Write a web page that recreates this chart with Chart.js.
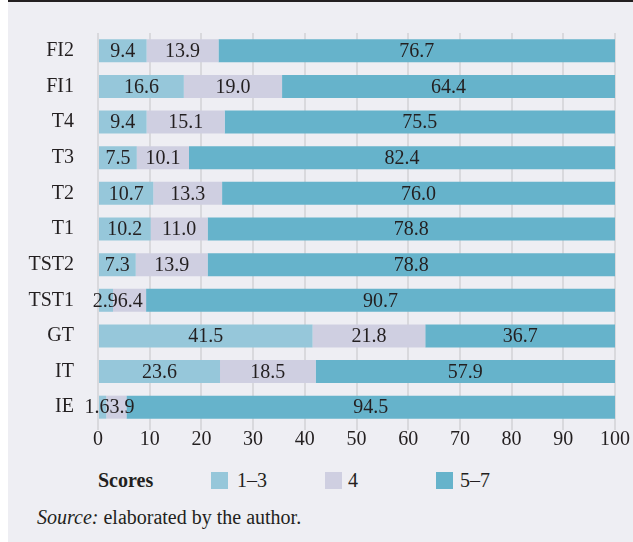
<!DOCTYPE html>
<html>
<head>
<meta charset="utf-8">
<script src="https://cdn.jsdelivr.net/npm/chart.js@4/dist/chart.umd.min.js"></script>
<style>
  html, body { margin: 0; padding: 0; background: #ffffff; width: 633px; height: 542px; overflow: hidden; }
  #frame { position: absolute; left: 8px; top: 0; width: 625px; height: 540px; background: #eeeef3; border-top: 2px solid #231f20; }
  #chart { position: absolute; left: 8px; top: -3px; }
  .txt { position: absolute; font-family: "Liberation Serif", "DejaVu Serif", serif; font-size: 20px; line-height: 20px; color: #231f20; white-space: nowrap; }
  .box { position: absolute; width: 17px; height: 17px; }
</style>
</head>
<body>
<div id="frame"></div>
<canvas id="chart" width="625" height="464"></canvas>
<div class="txt" style="left:98px; top:470px; font-weight:bold;">Scores</div>
<div id="legend"></div>
<div class="txt" style="left:37px; top:507px;"><i>Source:</i> elaborated by the author.</div>
<script>
const categories = ['FI2', 'FI1', 'T4', 'T3', 'T2', 'T1', 'TST2', 'TST1', 'GT', 'IT', 'IE'];
const seriesNames = ['1\u20133', '4', '5\u20137'];
const scoreLow = [9.4, 16.6, 9.4, 7.5, 10.7, 10.2, 7.3, 2.9, 41.5, 23.6, 1.6];
const scoreMid = [13.9, 19.0, 15.1, 10.1, 13.3, 11.0, 13.9, 6.4, 21.8, 18.5, 3.9];
const scoreHigh = [76.7, 64.4, 75.5, 82.4, 76.0, 78.8, 78.8, 90.7, 36.7, 57.9, 94.5];
const xTickValues = [0, 10, 20, 30, 40, 50, 60, 70, 80, 90, 100];

const colors = ['#96c7da', '#cfcfe1', '#66b3cb'];
const FONT = '"Liberation Serif", "DejaVu Serif", serif';
const TEXT = '#231f20';

const legendPos = [[211, 237], [325, 348], [436, 460]];
const legend = document.getElementById('legend');
seriesNames.forEach((n, i) => {
  const b = document.createElement('div');
  b.className = 'box';
  b.style.left = legendPos[i][0] + 'px';
  b.style.top = '472px';
  b.style.background = colors[i];
  legend.appendChild(b);
  const t = document.createElement('div');
  t.className = 'txt';
  t.style.left = legendPos[i][1] + 'px';
  t.style.top = '470px';
  t.textContent = n;
  legend.appendChild(t);
});

const valueLabels = {
  id: 'valueLabels',
  afterDatasetsDraw(chart) {
    const ctx = chart.ctx;
    ctx.save();
    ctx.font = '20px ' + FONT;
    ctx.fillStyle = TEXT;
    ctx.textAlign = 'center';
    ctx.textBaseline = 'middle';
    const n = chart.data.labels.length;
    for (let r = 0; r < n; r++) {
      const items = [];
      chart.data.datasets.forEach((ds, di) => {
        const el = chart.getDatasetMeta(di).data[r];
        const txt = ds.data[r].toFixed(1);
        items.push({ x: (el.x + el.base) / 2, y: el.y, w: ctx.measureText(txt).width, txt });
      });
      for (let k = 0; k < items.length - 1; k++) {
        const a = items[k], b = items[k + 1];
        const need = (a.w + b.w) / 2;
        const gap = b.x - a.x;
        if (gap < need) {
          const s = (need - gap) / 2;
          a.x -= s; b.x += s;
        }
      }
      items.forEach(it => ctx.fillText(it.txt, it.x, it.y + 1));
    }
    ctx.restore();
  }
};

new Chart(document.getElementById('chart'), {
  type: 'bar',
  data: {
    labels: categories,
    datasets: [
      { label: seriesNames[0], data: scoreLow, backgroundColor: colors[0] },
      { label: seriesNames[1], data: scoreMid, backgroundColor: colors[1] },
      { label: seriesNames[2], data: scoreHigh, backgroundColor: colors[2] }
    ]
  },
  options: {
    indexAxis: 'y',
    responsive: false,
    animation: false,
    devicePixelRatio: 1,
    barPercentage: 0.646,
    categoryPercentage: 1,
    layout: { padding: { top: 30, right: 18, left: 0, bottom: 0 } },
    plugins: { legend: { display: false }, tooltip: { enabled: false } },
    scales: {
      x: {
        stacked: true,
        min: 0, max: 100,
        afterBuildTicks(scale) { scale.ticks = xTickValues.map(v => ({ value: v })); },
        afterFit(scale) { scale.height = 30; },
        grid: { color: '#d9d9dd', lineWidth: 2, drawTicks: true, tickLength: 5, tickColor: '#d9d9dd' },
        border: { display: false },
        ticks: { color: TEXT, font: { family: FONT, size: 20 }, padding: -2, maxRotation: 0 }
      },
      y: {
        stacked: true,
        afterFit(scale) { scale.width = 90; },
        grid: { display: false, drawTicks: false },
        border: { display: false },
        ticks: { color: TEXT, font: { family: FONT, size: 20 }, padding: 24 }
      }
    }
  },
  plugins: [valueLabels]
});
</script>
</body>
</html>
